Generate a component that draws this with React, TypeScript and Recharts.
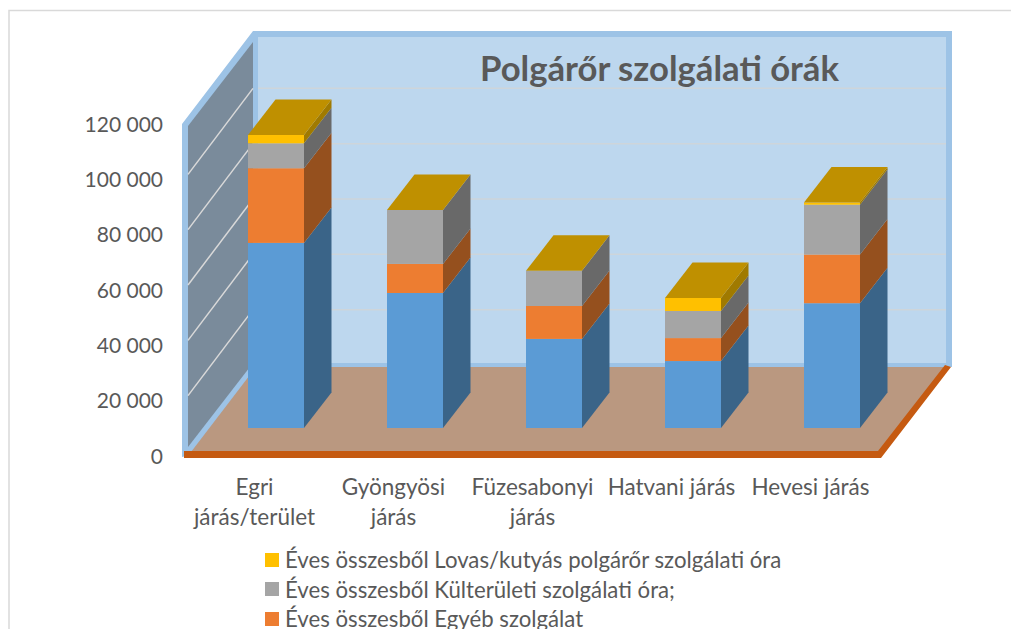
import React from 'react';
import { BarChart, Bar, XAxis, YAxis, CartesianGrid, Legend } from 'recharts';

const categories = ['Egri járás/terület', 'Gyöngyösi járás', 'Füzesabonyi járás', 'Hatvani járás', 'Hevesi járás'];
const categoryLines = [['Egri', 'járás/terület'], ['Gyöngyösi', 'járás'], ['Füzesabonyi', 'járás'], ['Hatvani járás'], ['Hevesi járás']];
const blueValues = [66900, 48800, 32200, 24200, 45100];
const orangeValues = [27000, 10500, 11900, 8300, 17600];
const grayValues = [9000, 19500, 12700, 9800, 18000];
const goldValues = [3000, 0, 0, 4700, 800];
const yTicks = [0, 20000, 40000, 60000, 80000, 100000, 120000];
const legendNames = [
  'Éves összesből Lovas/kutyás polgárőr szolgálati óra',
  'Éves összesből Külterületi szolgálati óra;',
  'Éves összesből Egyéb szolgálat',
];

const data = categories.map((name, i) => ({
  name,
  blue: blueValues[i],
  orange: orangeValues[i],
  gray: grayValues[i],
  gold: goldValues[i],
}));

const FONT = 'Lato, sans-serif';
const TEXT = '#595959';
const W = 1011;
const H = 629;
const PLOT_TOP = 96;
const PLOT_BOTTOM = 428;
const DEPTH_X = 27.5;
const DEPTH_Y = -35.5;

function poly(points: number[][]) {
  return points.map((p) => p.join(',')).join(' ');
}

function segment(props: any, side: string, top?: string) {
  const { x, y, width, height, fill } = props;
  const r = x + width;
  const b = y + height;
  return (
    <g>
      <rect x={x} y={y} width={width} height={height} fill={fill} />
      <polygon points={poly([[r, y], [r + DEPTH_X, y + DEPTH_Y], [r + DEPTH_X, b + DEPTH_Y], [r, b]])} fill={side} />
      {top ? (
        <polygon points={poly([[x, y], [x + DEPTH_X, y + DEPTH_Y], [r + DEPTH_X, y + DEPTH_Y], [r, y]])} fill={top} />
      ) : null}
    </g>
  );
}

function GridLine(props: any) {
  const { y1 } = props;
  if (y1 <= PLOT_TOP + 1 || y1 >= PLOT_BOTTOM - 1) return <g />;
  return (
    <g>
      <line x1={258} x2={946} y1={y1 - 63} y2={y1 - 63} stroke="#ced5da" strokeWidth={1.5} />
      <line x1={188} x2={253} y1={y1 + 23} y2={y1 - 63} stroke="#d9d9d9" strokeWidth={1.5} />
    </g>
  );
}

function YTick(props: any) {
  const { y, payload } = props;
  const label = String(payload.value).replace(/\B(?=(\d{3})+$)/g, ' ');
  return (
    <text x={163} y={y + 27} textAnchor="end" dominantBaseline="central" fontFamily={FONT} fontSize={21} fill={TEXT}>
      {label}
    </text>
  );
}

function XTick(props: any) {
  const { x, index } = props;
  const lines = categoryLines[index] || [];
  return (
    <g>
      {lines.map((line, i) => (
        <text key={line} x={x - 21} y={486 + i * 30} textAnchor="middle" dominantBaseline="central" fontFamily={FONT} fontSize={22.5} fill={TEXT}>
          {line}
        </text>
      ))}
    </g>
  );
}

function LegendContent(props: any) {
  const items = (props.payload || []) as any[];
  return (
    <div>
      {legendNames.map((n) => {
        const it = items.find((p) => p.value === n);
        if (!it) return null;
        return (
          <div key={n} style={{ display: 'flex', alignItems: 'center', height: 29.5, fontFamily: FONT, fontSize: 22.2, color: TEXT, whiteSpace: 'nowrap' }}>
            <span style={{ width: 14, height: 14, background: it.color, marginRight: 6, display: 'inline-block' }} />
            {n}
          </div>
        );
      })}
    </div>
  );
}

function Backdrop() {
  return (
    <svg width={W} height={H} style={{ position: 'absolute', left: 0, top: 0 }}>
      <rect x={0} y={0} width={W} height={H} fill="#ffffff" />
      <path d="M9 629 L9 10.5 L1011 10.5" fill="none" stroke="#d9d9d9" strokeWidth={1.5} />
      <polygon points={poly([[182, 124], [253, 31], [952, 31], [952, 367], [258, 367], [191, 455], [182, 457]])} fill="#9dc3e6" />
      <rect x={258} y={37} width={688} height={326} fill="#bdd7ee" />
      <polygon points={poly([[188, 126], [253, 42], [253, 363], [188, 447]])} fill="#7a8b9b" />
      <polygon points={poly([[191, 452], [256, 367], [946, 367], [880, 452]])} fill="#ba9880" />
      <polygon points={poly([[184, 451], [878, 451], [945, 365], [951, 367], [881, 458], [184, 458]])} fill="#c55a11" />
      <text x={659.5} y={67} textAnchor="middle" dominantBaseline="central" fontFamily={FONT} fontSize={34.7} fontWeight={700} fill={TEXT}>
        Polgárőr szolgálati órák
      </text>
    </svg>
  );
}

export default function App() {
  return (
    <div style={{ position: 'absolute', left: 0, top: 0, width: W, height: H, overflow: 'hidden' }}>
      <Backdrop />
      <div style={{ position: 'absolute', left: 0, top: 0 }}>
        <BarChart
          width={W}
          height={H}
          data={data}
          margin={{ top: PLOT_TOP, right: 110, bottom: H - PLOT_BOTTOM - 30, left: 146 }}
          barSize={56}
        >
          <CartesianGrid horizontal={GridLine as any} vertical={false} />
          <XAxis dataKey="name" height={30} axisLine={false} tickLine={false} tick={<XTick />} interval={0} />
          <YAxis width={60} domain={[0, 120000]} ticks={yTicks} axisLine={false} tickLine={false} tick={<YTick />} interval={0} />
          <Legend
            layout="horizontal"
            align="center"
            verticalAlign="middle"
            content={<LegendContent />}
            wrapperStyle={{ left: 265, top: 545, width: 600, height: 90, bottom: 'auto' }}
          />
          <Bar dataKey="blue" stackId="a" fill="#5b9bd5" legendType="none" isAnimationActive={false} shape={(p: any) => segment(p, '#3a6488')} />
          <Bar dataKey="orange" name={legendNames[2]} stackId="a" fill="#ed7d31" isAnimationActive={false} shape={(p: any) => segment(p, '#95501e')} />
          <Bar dataKey="gray" name={legendNames[1]} stackId="a" fill="#a5a5a5" isAnimationActive={false} shape={(p: any) => segment(p, '#696969')} />
          <Bar dataKey="gold" name={legendNames[0]} stackId="a" fill="#ffc000" isAnimationActive={false} shape={(p: any) => segment(p, '#a07a00', '#bf9000')} />
        </BarChart>
      </div>
    </div>
  );
}
